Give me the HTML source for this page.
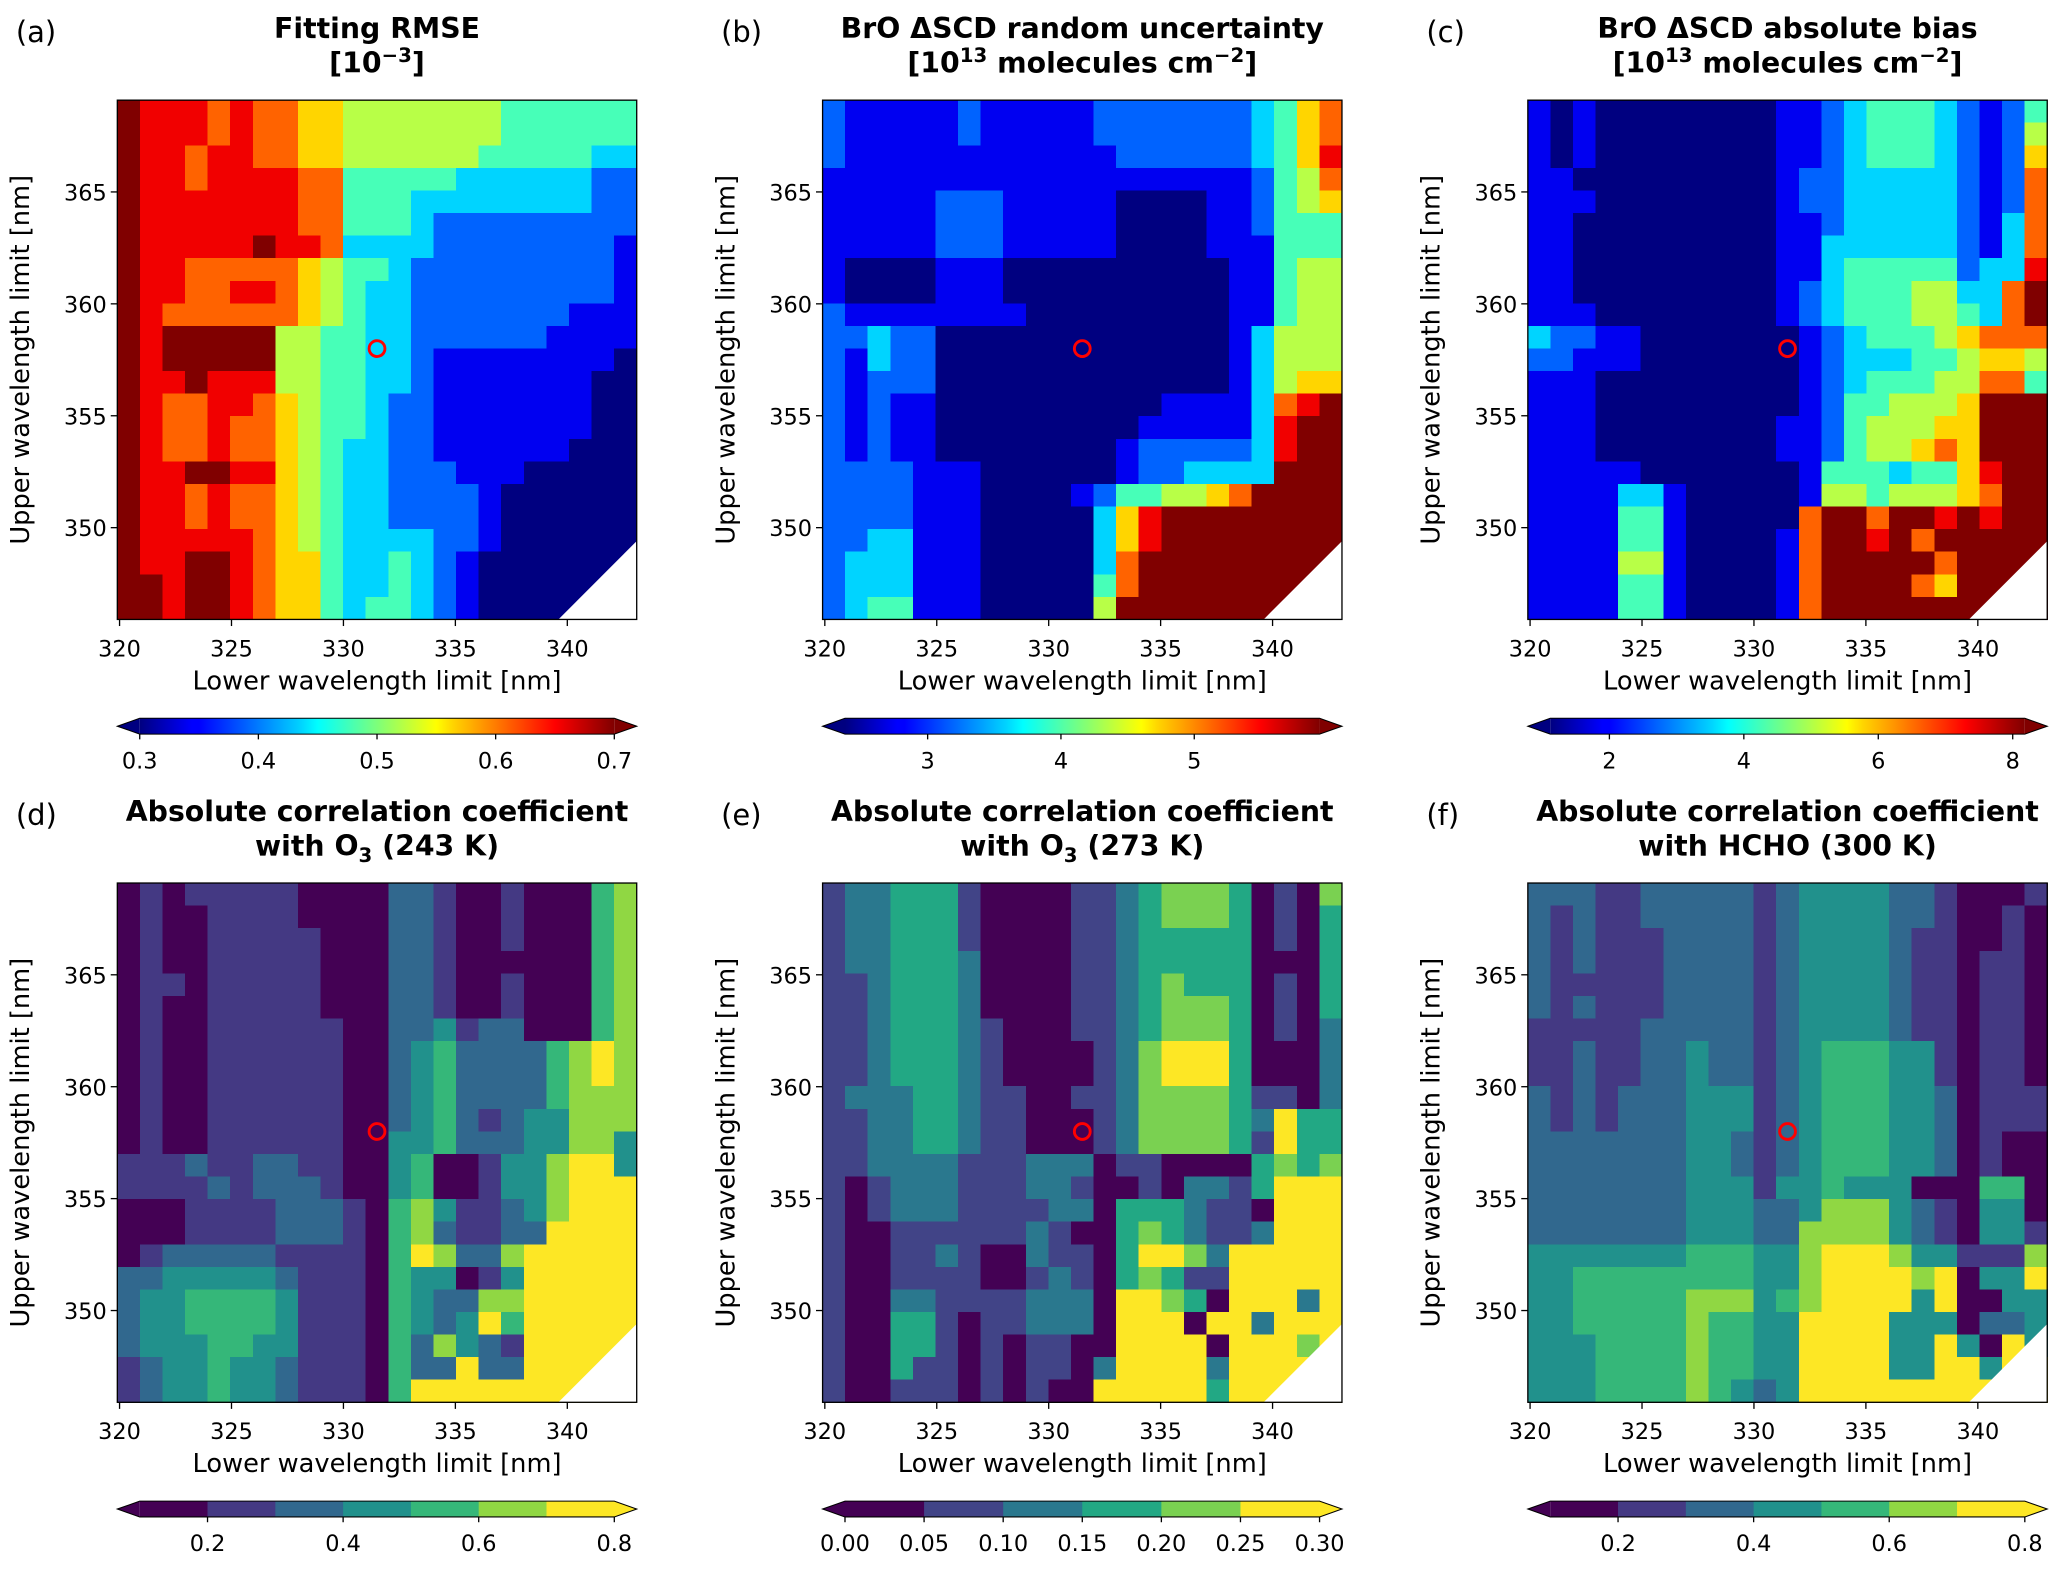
<!DOCTYPE html>
<html><head><meta charset="utf-8"><style>
html,body{margin:0;padding:0;background:#fff;}
svg{display:block;font-family:"DejaVu Sans","Liberation Sans",sans-serif;}
</style></head><body>
<svg id="fig" xmlns="http://www.w3.org/2000/svg" width="2067" height="1571" viewBox="0 0 1568 1192" preserveAspectRatio="none">
<defs>
<linearGradient id="jetgrad" x1="0" x2="1" y1="0" y2="0">
<stop offset="0" stop-color="#000080"/><stop offset="0.11" stop-color="#0000ff"/><stop offset="0.125" stop-color="#0000ff"/><stop offset="0.34" stop-color="#00d4ff"/><stop offset="0.375" stop-color="#00ffff"/><stop offset="0.5" stop-color="#7dff7a"/><stop offset="0.625" stop-color="#ffff00"/><stop offset="0.66" stop-color="#ffd400"/><stop offset="0.875" stop-color="#ff0000"/><stop offset="1" stop-color="#800000"/>
</linearGradient>
</defs>
</svg>
<script>
// ---- data ----
const xTicks = [320, 325, 330, 335, 340];
const yTicks = [350, 355, 360, 365];
const xRange = [319.9, 343.1];
const yRange = [345.9, 369.1];
const optimumPoint = [331.5, 358];
const cbarTicksRmse = [0.3, 0.4, 0.5, 0.6, 0.7];
const cbarTickLabelsRmse = ["0.3", "0.4", "0.5", "0.6", "0.7"];
const cbarRangeRmse = [0.3, 0.7];
const cbarTicksUnc = [3, 4, 5];
const cbarTickLabelsUnc = ["3", "4", "5"];
const cbarRangeUnc = [2.38, 5.94];
const cbarTicksBias = [2, 4, 6, 8];
const cbarTickLabelsBias = ["2", "4", "6", "8"];
const cbarRangeBias = [1.12, 8.18];
const cbarTicksCorr = [0.2, 0.4, 0.6, 0.8];
const cbarTickLabelsCorr = ["0.2", "0.4", "0.6", "0.8"];
const cbarBoundsCorr = [0.1, 0.2, 0.3, 0.4, 0.5, 0.6, 0.7, 0.8];
const cbarTicksCorr273 = [0, 0.05, 0.1, 0.15, 0.2, 0.25, 0.3];
const cbarTickLabelsCorr273 = ["0.00", "0.05", "0.10", "0.15", "0.20", "0.25", "0.30"];
const cbarBoundsCorr273 = [0, 0.05, 0.1, 0.15, 0.2, 0.25, 0.3];
const viridis7 = ["#440154", "#443983", "#31688e", "#21918c", "#35b779", "#90d743", "#fde725"];
const viridis6 = ["#440154", "#414487", "#2a788e", "#22a884", "#7ad151", "#fde725"];

// Row strings, top (369 nm) to bottom (346 nm); each char = level of one 1-nm column (320..342)
// jet levels 0..9 (fraction of colour range)
const rmseRows = [
"98887877665555555444444","98887877665555555444444","98878877665555554444433","98878888774444433333322",
"98888888774443333333322","98888888774443222222222","98888898873333222222221","98877777654432222222221",
"98877887654332222222221","98777777654332222222111","98999995544332222221111","98999995544332111111110",
"98898885544332111111100","98778876544322111111100","98778776544322111111100","98778776543322111111000",
"98899886543322211100000","98878776543322221000000","98878776543322221000000","98888876543333221000000",
"98899876643343210000000","99899876643343210000000","99899876643443210000000"];
const uncRows = [
"21111121111122222223467","21111121111122222223467","21111111111112222223468","11111111111111111112457",
"11111222111110000112456","11111222111110000112444","11111222111110000111444","10000111000000000011455",
"10000111000000000011455","21111111100000000011455","22322000000000000013555","21322000000000000013555",
"21222000000000000013566","21211000000000011113789","21211000000000111113899","21211000000001222223899",
"22221110000001223333999","22221110000124455679999","22221110000036899999999","22331110000036899999999",
"23331110000037999999999","23331110000047999999999","23441110000059999999999"];
const biasRows = [
"10100000000112344432124","10100000000112344432125","10100000000112344432126","11000000000122333332127",
"11100000000122333332127","11000000000112333332137","11000000000113333332137","11000000000113444442338",
"11000000000123444553379","11100000000123444554379","32211000000012344456777","22111000000012333445665",
"11100000000012344455774","11100000000012445556999","11100000000112455566999","11100000000112455676999",
"11111000000014443446899","11113310000015545556799","11114410000079979989899","11114410000179989799999",
"11115510000179999979999","11114410000179999769999","11114410000179999999999"];
// discrete levels (bins)
const corr243Rows = [
"01011111000022100100045","01001111000022100100045","01001111100022100100045","01001111100022100000045",
"01101111100022100100045","01001111100022100100045","01001111110022312200045","01001111110023422224565",
"01001111110023422224565","01001111110023422224555","01001111110023421233555","01001111110033422233553",
"11121122110034001335663","11112122210034001335666","00011112221045311235666","00011112221045211226666",
"01222221111046522566666","22333332111043301366666","23344443111043225566666","23344443111043236466666",
"23334433111042532166666","12334332111042262266666","12334332111046666666666"];
const corr273Rows = [
"12233310000112344430104","12233310000112344430103","12233310000112333330103","12233320000112333330003",
"11233320000112343330103","11233320000112344430103","11233321000112344430102","11233321000012455530002",
"11233321000012455530002","12223321100112444431102","11223321100012444432533","11223321100012444431533",
"11222211122201100003434","10122211122100102213555","10122211112203332110555","10011111121003432112555",
"10011210021103554255555","10011110012103431155555","10022111122205543055525","10033101122205550552555",
"10033101011005555055545","10031101011025555255555","10011101010055555355555"];
const corrHchoRows = [
"22211222221233332210001","21211222221233332210010","21211122221233332110010","21211122221233332110110",
"21111122221233332110110","21211122221233332110110","11111222221233332110110","11211223221234443310110",
"11211223221234443310110","21212223331234443320111","21212223331234443320111","22222223321234443320100",
"22222223321234443320100","22222223331334333000440","22222223332235553210330","22222223332255553210331",
"33333334443356665331115","33444444443356666560336","33444445553456666360033","33444445443366663330223",
"33344445443366663363063","33344445443366663366366","33344445432366666666666"];

// ---- layout ----
const NS = "http://www.w3.org/2000/svg";
const svg = document.getElementById("fig");
const AX = 394;
function mk(tag, attrs, parent) {
  const e = document.createElementNS(NS, tag);
  for (const k in attrs) e.setAttribute(k, attrs[k]);
  (parent || svg).appendChild(e);
  return e;
}
function jet(t) {
  const c = v => Math.round(255 * Math.max(0, Math.min(1, v)));
  return "rgb(" + c(1.5 - Math.abs(4 * t - 3)) + "," + c(1.5 - Math.abs(4 * t - 2)) + "," + c(1.5 - Math.abs(4 * t - 1)) + ")";
}
const panels = [
  {key:"a", x0:89, y0:76, rows:rmseRows, kind:"jet", t1:"Fitting RMSE", t2:["[10", "−3", "]"], name:"fitting-rmse"},
  {key:"b", x0:624, y0:76, rows:uncRows, kind:"jet", t1:"BrO ΔSCD random uncertainty", t2:["[10", "13", " molecules cm", "−2", "]"], name:"random-uncertainty"},
  {key:"c", x0:1159, y0:76, rows:biasRows, kind:"jet", t1:"BrO ΔSCD absolute bias", t2:["[10", "13", " molecules cm", "−2", "]"], name:"absolute-bias"},
  {key:"d", x0:89, y0:670, rows:corr243Rows, kind:"v7", t1:"Absolute correlation coefficient", t2:["with O", "3", " (243 K)"], sub:true, name:"corr-o3-243k"},
  {key:"e", x0:624, y0:670, rows:corr273Rows, kind:"v6", t1:"Absolute correlation coefficient", t2:["with O", "3", " (273 K)"], sub:true, name:"corr-o3-273k"},
  {key:"f", x0:1159, y0:670, rows:corrHchoRows, kind:"v7", t1:"Absolute correlation coefficient", t2:["with HCHO (300 K)"], name:"corr-hcho-300k"}
];
const cbars = {
  a:{type:"jet", ticks:cbarTicksRmse, labels:cbarTickLabelsRmse, range:cbarRangeRmse},
  b:{type:"jet", ticks:cbarTicksUnc, labels:cbarTickLabelsUnc, range:cbarRangeUnc},
  c:{type:"jet", ticks:cbarTicksBias, labels:cbarTickLabelsBias, range:cbarRangeBias},
  d:{type:"disc", ticks:cbarTicksCorr, labels:cbarTickLabelsCorr, bounds:cbarBoundsCorr, colors:viridis7},
  e:{type:"disc", ticks:cbarTicksCorr273, labels:cbarTickLabelsCorr273, bounds:cbarBoundsCorr273, colors:viridis6},
  f:{type:"disc", ticks:cbarTicksCorr, labels:cbarTickLabelsCorr, bounds:cbarBoundsCorr, colors:viridis7}
};

panels.forEach(p => {
  const xs = v => p.x0 + (v - xRange[0]) / (xRange[1] - xRange[0]) * AX;
  const ys = v => p.y0 + (yRange[1] - v) / (yRange[1] - yRange[0]) * AX;
  const g = mk("g", {});
  
  

  const nR = p.rows.length;
  const nC = p.rows[0].length;
  const dxv = (xRange[1] - xRange[0]) / nC, dyv = (yRange[1] - yRange[0]) / nR;
  const hm = mk("g", {"shape-rendering":"crispEdges"}, g);
  
  
  p.rows.forEach((row, r) => {
    for (let c = 0; c < row.length; c++) {
      const lv = parseInt(row[c], 10);
      let col;
      if (p.kind === "jet") col = jet(lv / 9);
      else if (p.kind === "v7") col = viridis7[lv];
      else col = viridis6[lv];
      const xa = xs(xRange[0] + c * dxv), xb = xs(xRange[0] + (c + 1) * dxv);
      const ya = ys(yRange[1] - r * dyv), yb = ys(yRange[1] - (r + 1) * dyv);
      const cell = mk("rect", {x:xa.toFixed(2), y:ya.toFixed(2), width:(xb - xa + 0.4).toFixed(2), height:(yb - ya + 0.4).toFixed(2), fill:col}, hm);
      
      
    }
  });
  const tri = mk("polygon", {points:[xs(339.6)+","+ys(345.9), xs(343.1)+","+ys(345.9), xs(343.1)+","+ys(349.4)].join(" "), fill:"#fff"}, g);
  
  

  const fr = mk("rect", {x:p.x0, y:p.y0, width:AX, height:AX, fill:"none", stroke:"#000", "stroke-width":1}, g);
  
  

  const mkc = mk("circle", {cx:xs(optimumPoint[0]), cy:ys(optimumPoint[1]), r:6, fill:"none", stroke:"#ff0000", "stroke-width":2.2}, g);
  
  

  xTicks.forEach(v => {
    const X = xs(v);
    const tk = mk("line", {x1:X, x2:X, y1:p.y0 + AX, y2:p.y0 + AX + 5, stroke:"#000", "stroke-width":1}, g);
    
    
    const tl = mk("text", {x:X, y:p.y0 + AX + 28, "font-size":17, "text-anchor":"middle", fill:"#000"}, g);
    tl.textContent = String(v);
    
    
  });
  yTicks.forEach(v => {
    const Y = ys(v);
    const tk = mk("line", {x1:p.x0 - 5, x2:p.x0, y1:Y, y2:Y, stroke:"#000", "stroke-width":1}, g);
    
    
    const tl = mk("text", {x:p.x0 - 8, y:Y + 6.5, "font-size":17, "text-anchor":"end", fill:"#000"}, g);
    tl.textContent = String(v);
    
    
  });
  const xl = mk("text", {x:p.x0 + AX / 2, y:p.y0 + AX + 53, "font-size":19.5, "text-anchor":"middle", fill:"#000"}, g);
  xl.textContent = "Lower wavelength limit [nm]";
  
  
  const yl = mk("text", {x:0, y:0, "font-size":19.5, "text-anchor":"middle", fill:"#000", transform:"translate(" + (p.x0 - 67) + "," + (p.y0 + AX / 2) + ") rotate(-90)"}, g);
  yl.textContent = "Upper wavelength limit [nm]";
  
  

  const pl = mk("text", {x:p.x0 - 77, y:p.y0 - 44, "font-size":22, fill:"#000"}, g);
  pl.textContent = "(" + p.key + ")";
  
  

  const t1 = mk("text", {x:p.x0 + AX / 2, y:p.y0 - 47, "font-size":21.5, "font-weight":"bold", "text-anchor":"middle", fill:"#000"}, g);
  t1.textContent = p.t1;
  
  
  const t2 = mk("text", {x:p.x0 + AX / 2, y:p.y0 - 21, "font-size":21.5, "font-weight":"bold", "text-anchor":"middle", fill:"#000"}, g);
  
  
  p.t2.forEach((s, i) => {
    const ts = document.createElementNS(NS, "tspan");
    ts.textContent = s;
    const isScript = (i % 2 === 1);
    if (isScript) {
      ts.setAttribute("font-size", "15");
      ts.setAttribute("dy", p.sub ? "5" : "-8");
    } else if (i > 0) {
      ts.setAttribute("dy", p.sub ? "-5" : "8");
    }
    t2.appendChild(ts);
  });

  const cb = cbars[p.key];
  const cy0 = p.y0 + AX + 75, ch = 12;
  const rx0 = p.x0 + 17, rx1 = p.x0 + 377;
  const cg = mk("g", {}, g);
  
  
  let lowCol, highCol, cs;
  if (cb.type === "jet") {
    const r = mk("rect", {x:rx0, y:cy0, width:rx1 - rx0, height:ch, fill:"url(#jetgrad)"}, cg);
    
    
    lowCol = "#000080"; highCol = "#800000";
    cs = v => rx0 + (v - cb.range[0]) / (cb.range[1] - cb.range[0]) * (rx1 - rx0);
  } else {
    const b = cb.bounds;
    cs = v => rx0 + (v - b[0]) / (b[b.length - 1] - b[0]) * (rx1 - rx0);
    for (let i = 0; i < b.length - 1; i++) {
      const seg = mk("rect", {x:cs(b[i]), y:cy0, width:cs(b[i + 1]) - cs(b[i]) + 0.3, height:ch, fill:cb.colors[i]}, cg);
      
      
    }
    lowCol = cb.colors[0]; highCol = cb.colors[cb.colors.length - 1];
  }
  const lt = mk("polygon", {points:rx0 + "," + cy0 + " " + p.x0 + "," + (cy0 + ch / 2) + " " + rx0 + "," + (cy0 + ch), fill:lowCol}, cg);
  
  
  const rt = mk("polygon", {points:rx1 + "," + cy0 + " " + (p.x0 + AX) + "," + (cy0 + ch / 2) + " " + rx1 + "," + (cy0 + ch), fill:highCol}, cg);
  
  
  const ol = mk("polygon", {points:[rx0 + "," + cy0, rx1 + "," + cy0, (p.x0 + AX) + "," + (cy0 + ch / 2), rx1 + "," + (cy0 + ch), rx0 + "," + (cy0 + ch), p.x0 + "," + (cy0 + ch / 2)].join(" "), fill:"none", stroke:"#000", "stroke-width":0.8}, cg);
  
  
  cb.ticks.forEach((v, i) => {
    const X = cs(v);
    const tk = mk("line", {x1:X, x2:X, y1:cy0 + ch, y2:cy0 + ch + 4, stroke:"#000", "stroke-width":1}, cg);
    
    
    const tl = mk("text", {x:X, y:cy0 + ch + 26, "font-size":17, "text-anchor":"middle", fill:"#000"}, cg);
    tl.textContent = cb.labels[i];
    
    
  });
});
</script>
</body></html>
